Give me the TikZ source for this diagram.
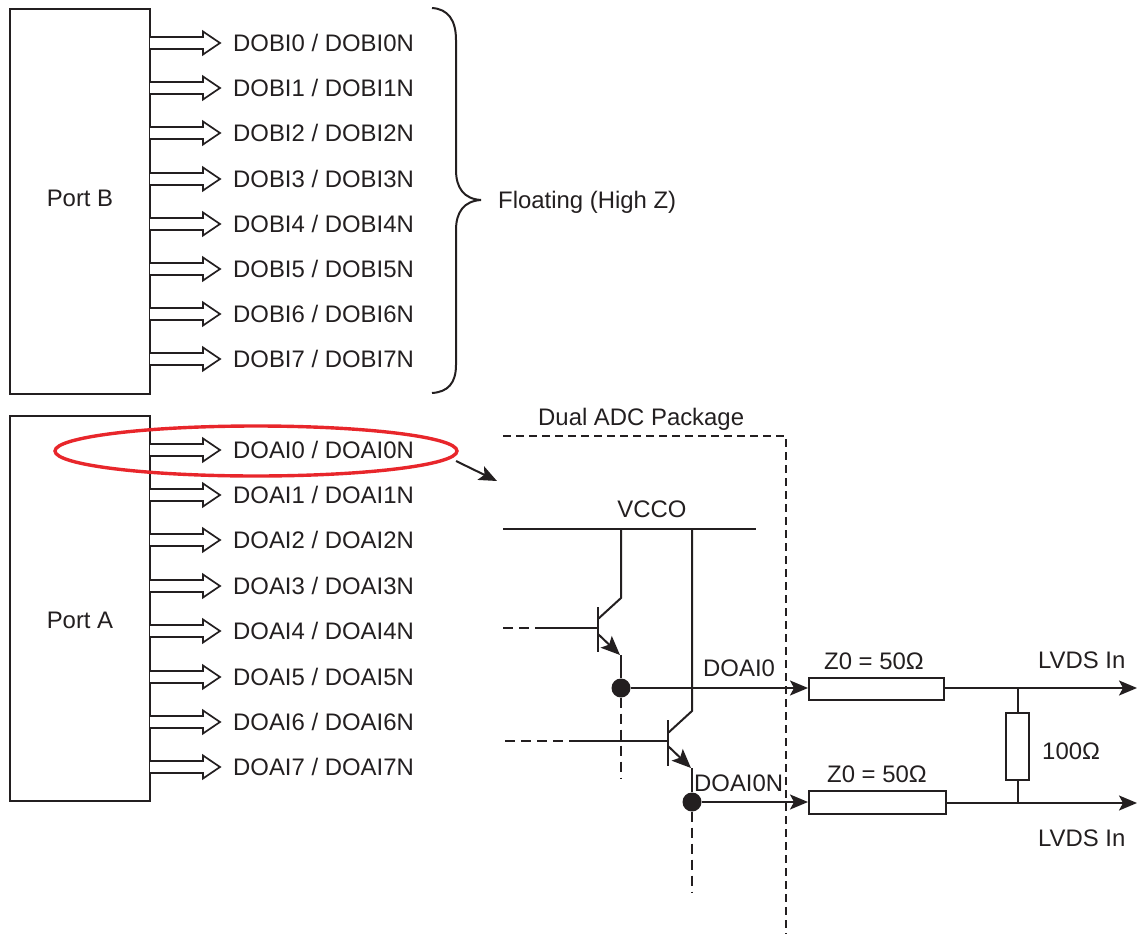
\documentclass[tikz,border=0pt]{standalone}
\usepackage{fontspec}
\setmainfont{Liberation Sans}
\usetikzlibrary{arrows.meta}
\definecolor{ink}{HTML}{231F20}
\definecolor{redmark}{HTML}{E8262B}
\tikzset{
  lbl/.style={inner sep=0pt,text height=17pt,text depth=0pt,text=ink,font=\fontsize{23.9}{28}\selectfont},
  sig/.style={lbl,anchor=west},
  wire/.style={draw=ink,line width=2pt},
  thin wire/.style={draw=ink,line width=1.7pt},
  dash wire/.style={wire,dash pattern=on 10pt off 6pt},
  arr/.style={wire,-{Stealth[length=18pt,width=15pt,inset=4pt]}},
  emit/.style={wire,-{Stealth[length=19pt,width=16pt,inset=4pt]}},
  box/.style={draw=ink,line width=2pt,fill=white,inner sep=0pt,minimum width=#1},
  dot/.style={circle,fill=ink,inner sep=0pt,minimum size=19pt},
}
\newcommand{\hollowarrow}[1]{%
  \draw[thin wire,line join=miter,fill=white]
    (150,#1-6) -- (203,#1-6) -- (203,#1-11.5) -- (220,#1) -- (203,#1+11.5) -- (203,#1+6) -- (150,#1+6);}
\begin{document}
\begin{tikzpicture}[x=1pt,y=-1pt]
\useasboundingbox (0,0) rectangle (1143,934);
% ports
\node[box=140pt,minimum height=385pt] (portb) at (80,201.5) {};
\node[box=140pt,minimum height=385pt] (porta) at (80,608.5) {};
\node[lbl] (portbl) at (80,198) {Port B};
\node[lbl] (portal) at (80,619.5) {Port A};
% port B signals
\foreach \n/\y in {0/43,1/88,2/133,3/179,4/224,5/269,6/314,7/359}{
  \hollowarrow{\y}
  \node[sig] (b\n) at (233,\y) {DOBI\n{} / DOBI\n N};
}
% port A signals
\foreach \n/\y in {0/450,1/495,2/540,3/586,4/631,5/677,6/722,7/767}{
  \hollowarrow{\y}
  \node[sig] (a\n) at (233,\y) {DOAI\n{} / DOAI\n N};
}
% brace
\draw[wire] (432,8) .. controls (448,9) and (456,20) .. (456,40) -- (456,170)
  .. controls (456,188) and (464,199) .. (481,200)
  .. controls (464,201) and (456,212) .. (456,230) -- (456,365)
  .. controls (456,383) and (448,392) .. (432,393);
\node[sig] (float) at (498,200) {Floating (High Z)};
% package outline
\node[sig] (pkg) at (538,417) {Dual ADC Package};
\coordinate (pk1) at (503,436);
\coordinate (pk2) at (786,436);
\coordinate (pk3) at (786,934);
\draw[wire,dash pattern=on 8pt off 5pt,line width=1.6pt] (pk1) -- (pk2) -- (pk3);
% red ellipse and pointer
\draw[draw=redmark,line width=3.4pt] (256,451) ellipse [x radius=201,y radius=25];
\coordinate (pa) at (456,461);
\coordinate (pb) at (497,481);
\draw[arr] (pa) -- (pb);
% VCC rail
\node[lbl] (vcco) at (652,509) {VCCO};
\coordinate (vl) at (503,529);
\coordinate (vr) at (756,529);
\draw[wire] (vl) -- (vr);
% transistor 1
\node[dot] (d1) at (621,688) {};
\coordinate (c1t) at (621,529);
\coordinate (c1b) at (621,598);
\coordinate (c1q) at (598,619);
\coordinate (e1q) at (598,634);
\coordinate (e1t) at (620,655);
\coordinate (bt1) at (598,607);
\coordinate (bb1) at (598,652);
\coordinate (b1l) at (503,628);
\coordinate (b1m) at (543,628);
\coordinate (b1r) at (598,628);
\coordinate (d1e) at (621,779);
\draw[wire] (c1t) -- (c1b) -- (c1q);
\draw[wire] (bt1) -- (bb1);
\draw[dash wire] (b1l) -- (b1m);
\draw[wire] (b1m) -- (b1r);
\draw[emit] (e1q) -- (e1t);
\draw[wire] (621,655) -- (d1);
\draw[dash wire] (d1) -- (d1e);
% transistor 2
\node[dot] (d2) at (692,802) {};
\coordinate (c2t) at (692,529);
\coordinate (c2b) at (692,711);
\coordinate (c2q) at (668,733);
\coordinate (e2q) at (668,746);
\coordinate (e2t) at (691,768);
\coordinate (bt2) at (668,720);
\coordinate (bb2) at (668,766);
\coordinate (b2l) at (505,741);
\coordinate (b2m) at (573,741);
\coordinate (b2r) at (668,741);
\coordinate (d2e) at (692,892);
\draw[wire] (c2t) -- (c2b) -- (c2q);
\draw[wire] (bt2) -- (bb2);
\draw[dash wire] (b2l) -- (b2m);
\draw[wire] (b2m) -- (b2r);
\draw[emit] (e2q) -- (e2t);
\draw[wire] (692,768) -- (d2);
\draw[dash wire] (d2) -- (d2e);
% transmission lines
\node[box=135pt,minimum height=22pt] (z1) at (876.5,689) {};
\node[box=137pt,minimum height=23pt] (z2) at (877.5,802.5) {};
\draw[arr] (d1) -- (z1.west |- d1);
\draw[arr] (d2) -- (z2.west |- d2);
\node[sig] (doai0) at (703,668) {DOAI0};
\node[sig] (doai0n) at (694,783) {DOAI0N};
\node[lbl] (z1l) at (874,661) {Z0 = 50Ω};
\node[lbl] (z2l) at (877,774) {Z0 = 50Ω};
% outputs
\coordinate (o1) at (1137,688);
\coordinate (o2) at (1137,803);
\draw[arr] (z1.east |- o1) -- (o1);
\draw[arr] (z2.east |- o2) -- (o2);
\node[box=23pt,minimum height=67pt] (r) at (1017.5,746.5) {};
\draw[wire] (r.north) -- (r.north |- o1);
\draw[wire] (r.south) -- (r.south |- o2);
\node[sig] (rl) at (1042,751) {100Ω};
\node[sig] (l1) at (1038,660) {LVDS In};
\node[sig] (l2) at (1038,838) {LVDS In};
\end{tikzpicture}
\end{document}
